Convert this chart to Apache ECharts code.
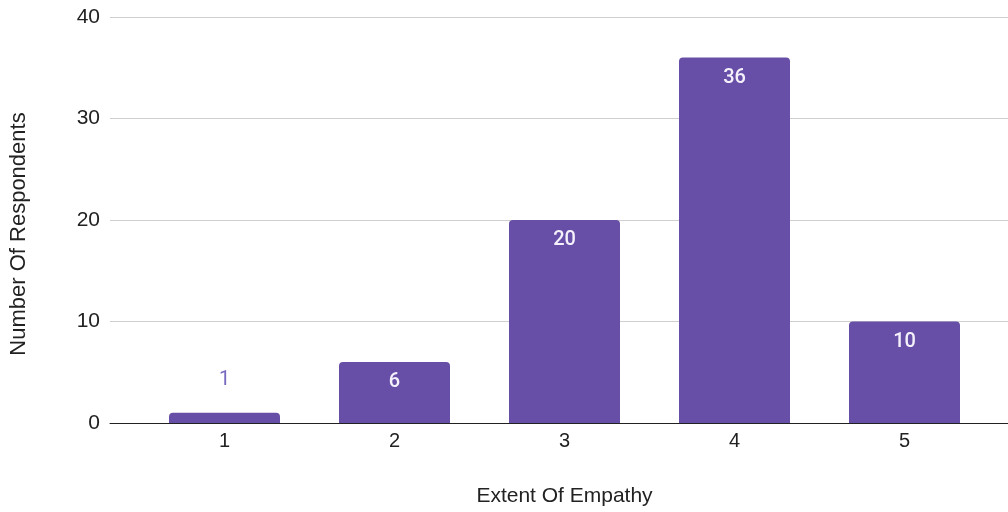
<!DOCTYPE html>
<html>
<head>
<meta charset="utf-8">
<script src="https://cdn.jsdelivr.net/npm/echarts@6/dist/echarts.min.js"></script>
<style>
  html, body { margin: 0; padding: 0; background: #ffffff; }
  #chart { width: 1008px; height: 512px; }
</style>
</head>
<body>
<div id="chart"></div>
<script>
// Survey results: how strongly respondents rated their empathy (1–5)
const categories = ['1', '2', '3', '4', '5'];
const respondents = [1, 6, 20, 36, 10];
const yMin = 0;
const yMax = 40;
const yStep = 10;

const BAR_COLOR = '#674ea7';
const AXIS_FONT = '"Liberation Sans", Arial, sans-serif';
const LABEL_FONT = 'Roboto, "Liberation Sans", sans-serif';

// Short bars get their value written above them, the rest inside the top.
const barData = respondents.map(v => {
  const small = v < 3;
  return {
    value: v,
    label: small
      ? { position: 'top', distance: 23, color: '#7869c0', fontWeight: 'normal' }
      : { position: 'insideTop', distance: 10, color: '#f4f1fb' }
  };
});

const chart = echarts.init(document.getElementById('chart'), null, { renderer: 'canvas' });

chart.setOption({
  animation: false,
  backgroundColor: '#ffffff',
  grid: [
    // frame grid: value gridlines, y labels and the baseline
    { left: 108, right: 0, top: 17, bottom: 89 },
    // bar grid: category bands
    { left: 139.5, right: 18.5, top: 17, bottom: 89 }
  ],
  xAxis: [
    {
      gridIndex: 0,
      type: 'category',
      data: [''],
      axisLine: { show: true, lineStyle: { color: '#222222', width: 1 } },
      axisTick: { show: false },
      axisLabel: { show: false },
      splitLine: { show: false }
    },
    {
      gridIndex: 1,
      type: 'category',
      data: categories,
      axisLine: { show: false },
      axisTick: { show: false },
      axisLabel: {
        margin: 8,
        color: '#222222',
        fontFamily: AXIS_FONT,
        fontSize: 20
      },
      name: 'Extent Of Empathy',
      nameLocation: 'middle',
      nameGap: 63,
      nameTextStyle: {
        color: '#222222',
        fontFamily: AXIS_FONT,
        fontSize: 21
      }
    }
  ],
  yAxis: [
    {
      gridIndex: 0,
      type: 'value',
      min: yMin,
      max: yMax,
      interval: yStep,
      axisLine: { show: false },
      axisTick: { show: false },
      axisLabel: {
        margin: 10,
        color: '#222222',
        fontFamily: AXIS_FONT,
        fontSize: 21
      },
      splitLine: { show: true, lineStyle: { color: '#cfcfcf', width: 1 } },
      name: 'Number Of Respondents',
      nameLocation: 'middle',
      nameGap: 80,
      nameTextStyle: {
        color: '#222222',
        fontFamily: AXIS_FONT,
        fontSize: 22,
        padding: [0, 28, 0, 0]
      }
    },
    {
      gridIndex: 1,
      type: 'value',
      min: yMin,
      max: yMax,
      interval: yStep,
      show: false,
      splitLine: { show: false }
    }
  ],
  series: [
    {
      type: 'bar',
      xAxisIndex: 1,
      yAxisIndex: 1,
      data: barData,
      barWidth: 111,
      itemStyle: { color: BAR_COLOR, borderRadius: [4, 4, 0, 0] },
      label: {
        show: true,
        fontFamily: LABEL_FONT,
        fontSize: 20,
        fontWeight: 500,
        lineHeight: 20
      }
    }
  ]
});
</script>
</body>
</html>
